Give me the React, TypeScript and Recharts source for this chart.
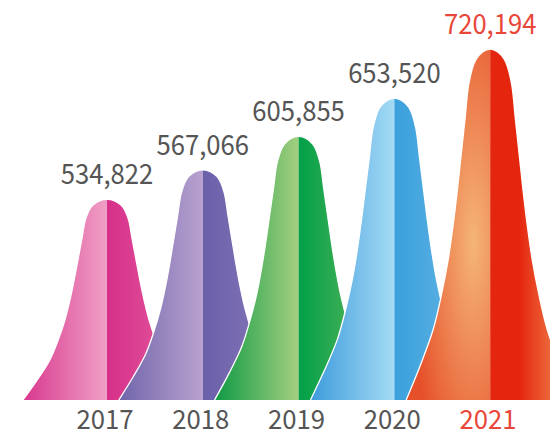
import { Bar, BarChart, LabelList, XAxis, YAxis } from "recharts";

const years = ["2017", "2018", "2019", "2020", "2021"];
const visitors = [534822, 567066, 605855, 653520, 720194];

// left half: [edge, centre], right half: [centre, edge]
const leftColors = [
  ["#d8388e", "#f0a0c6"],
  ["#7064aa", "#b9a2d0"],
  ["#0f9a45", "#a3cf7f"],
  ["#3d9bdc", "#a5dbf5"],
  ["#e6502a", "#f5b577"],
];
const rightColors = [
  ["#d6308a", "#e460a0"],
  ["#6a60aa", "#8c7aba"],
  ["#00a048", "#6ab85e"],
  ["#3aa0dc", "#6ab8e6"],
  ["#e5260f", "#f29a5c"],
];

const data = years.map((year, i) => ({ year, value: visitors[i] }));

const GREY = "#555555";
const RED = "#e8473a";
const FONT = "'Noto Sans CJK SC', 'Noto Sans', sans-serif";
const HALF_WIDTH = 84;

// bell outline, half-width units from centre vs. fraction of height
const PROFILE: [number, number][] = [
  [1, 0],
  [0.83, 0.1],
  [0.68, 0.2],
  [0.58, 0.3],
  [0.5, 0.4],
  [0.44, 0.5],
  [0.39, 0.6],
  [0.345, 0.7],
  [0.3, 0.8],
  [0.255, 0.9],
  [0.17, 0.97],
  [0, 1],
];

function bellPaths(cx: number, base: number, h: number) {
  const left = PROFILE.map(([u, f]) => [cx - u * HALF_WIDTH, base - f * h]);
  const right = PROFILE.slice(0, -1)
    .reverse()
    .map(([u, f]) => [cx + u * HALF_WIDTH, base - f * h]);
  const pts = [...left, ...right];
  const segs: string[] = [];
  for (let i = 0; i < pts.length - 1; i++) {
    const p0 = pts[i - 1] || pts[i];
    const p1 = pts[i];
    const p2 = pts[i + 1];
    const p3 = pts[i + 2] || pts[i + 1];
    const c1 = [p1[0] + (p2[0] - p0[0]) / 6, p1[1] + (p2[1] - p0[1]) / 6];
    const c2 = [p2[0] - (p3[0] - p1[0]) / 6, p2[1] - (p3[1] - p1[1]) / 6];
    segs.push(`C${c1[0]},${c1[1]} ${c2[0]},${c2[1]} ${p2[0]},${p2[1]}`);
  }
  const top = PROFILE.length - 1;
  const start = `M${pts[0][0]},${pts[0][1]}`;
  return {
    left: `${start} ${segs.slice(0, top).join(" ")} L${cx},${base} Z`,
    right: `M${pts[top][0]},${pts[top][1]} ${segs.slice(top).join(" ")} L${cx},${base} Z`,
    outline: `${start} ${segs.join(" ")}`,
  };
}

function BellShape(props: any) {
  const { x, y, width, height, index } = props;
  const cx = x + width / 2;
  const base = y + height;
  const p = bellPaths(cx, base, height);
  const lc = leftColors[index];
  const rc = rightColors[index];
  const last = index === years.length - 1;
  return (
    <g>
      <defs>
        {last ? (
          <radialGradient id={`bl${index}`} cx="0.8" cy="0.55" r="0.75">
            <stop offset="0%" stopColor={lc[1]} />
            <stop offset="100%" stopColor={lc[0]} />
          </radialGradient>
        ) : (
          <linearGradient id={`bl${index}`} x1="0" y1="0" x2="1" y2="0">
            <stop offset="0%" stopColor={lc[0]} />
            <stop offset="100%" stopColor={lc[1]} />
          </linearGradient>
        )}
        <linearGradient id={`br${index}`} x1="0" y1="0" x2="1" y2="0">
          <stop offset={last ? "35%" : "0%"} stopColor={rc[0]} />
          <stop offset="100%" stopColor={rc[1]} />
        </linearGradient>
      </defs>
      <path d={p.left} fill={`url(#bl${index})`} />
      <path d={p.right} fill={`url(#br${index})`} />
      <path d={p.outline} fill="none" stroke="#ffffff" strokeWidth={1.3} />
    </g>
  );
}

// width of a number label in px (digits ~14.25, comma ~7)
const textWidth = (s: string) =>
  s.split("").reduce((w, c) => w + (c === "," ? 7 : 14.25), 0);

function YearTick(props: any) {
  const { x, y, payload, index } = props;
  const s = String(payload.value);
  return (
    <text
      x={x - 2}
      y={y}
      dy={21}
      textAnchor="middle"
      fontFamily={FONT}
      fontSize={27}
      textLength={textWidth(s)}
      lengthAdjust="spacingAndGlyphs"
      fill={index === years.length - 1 ? RED : GREY}
    >
      {s}
    </text>
  );
}

function ValueLabel(props: any) {
  const { x, y, width, value, index } = props;
  const s = Number(value).toLocaleString("en-US");
  return (
    <text
      x={x + width / 2}
      y={y - 15}
      textAnchor="middle"
      fontFamily={FONT}
      fontSize={28}
      textLength={textWidth(s)}
      lengthAdjust="spacingAndGlyphs"
      fill={index === years.length - 1 ? RED : GREY}
    >
      {s}
    </text>
  );
}

export default function App() {
  return (
    <div style={{ width: 550, height: 437 }}>
      <style>{"body{margin:0}"}</style>
      <BarChart
        width={550}
        height={437}
        data={data}
        margin={{ top: 40, right: 12, left: 59, bottom: 0 }}
        barCategoryGap={0}
      >
        <XAxis
          dataKey="year"
          height={37}
          axisLine={false}
          tickLine={false}
          interval={0}
          tick={<YearTick />}
        />
        <YAxis
          hide
          type="number"
          scale="log"
          domain={[359428, 733175]}
          allowDataOverflow
        />
        <Bar dataKey="value" shape={<BellShape />} isAnimationActive={false}>
          <LabelList dataKey="value" content={<ValueLabel />} />
        </Bar>
      </BarChart>
    </div>
  );
}
